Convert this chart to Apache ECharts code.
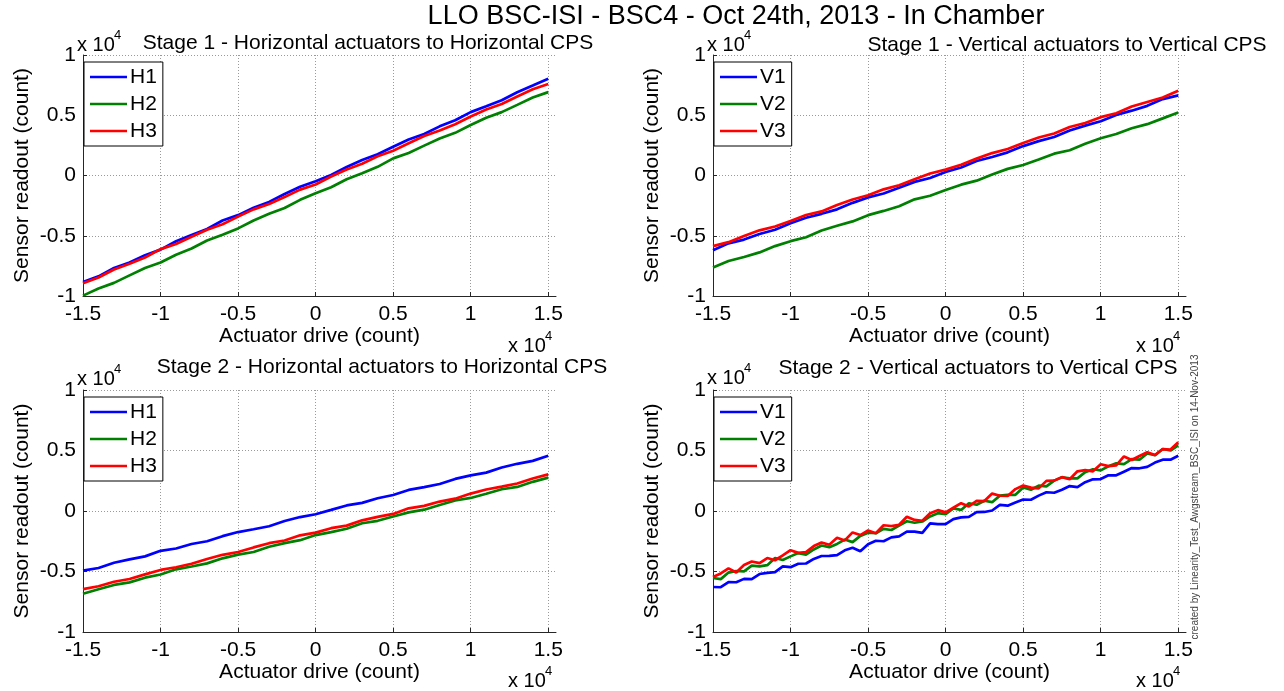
<!DOCTYPE html>
<html><head><meta charset="utf-8">
<script src="https://cdn.jsdelivr.net/npm/echarts@6/dist/echarts.min.js"></script>
<style>html,body{margin:0;padding:0;background:#fff}#c{width:1284px;height:691px}</style>
</head><body><div id="c"></div>
<script>
// ---- Data (values in units of x10^4 counts) ----
const MAIN_TITLE = 'LLO BSC-ISI - BSC4 - Oct 24th, 2013 - In Chamber';
const PANEL_TITLES = [
  'Stage 1 - Horizontal actuators to Horizontal CPS',
  'Stage 1 - Vertical actuators to Vertical CPS',
  'Stage 2 - Horizontal actuators to Horizontal CPS',
  'Stage 2 - Vertical actuators to Vertical CPS'
];
const X_NAME = 'Actuator drive (count)';
const Y_NAME = 'Sensor readout (count)';
const WATERMARK = 'created by Linearity_Test_Awgstream_BSC_ISI on 14-Nov-2013';
const X_TICKS = [-1.5, -1, -0.5, 0, 0.5, 1, 1.5];
const Y_TICKS = [-1, -0.5, 0, 0.5, 1];

const X31 = [-1.5,-1.4,-1.3,-1.2,-1.1,-1.0,-0.9,-0.8,-0.7,-0.6,-0.5,-0.4,-0.3,-0.2,-0.1,0,
  0.1,0.2,0.3,0.4,0.5,0.6,0.7,0.8,0.9,1.0,1.1,1.2,1.3,1.4,1.5];
const X61 = [-1.5,-1.45,-1.4,-1.35,-1.3,-1.25,-1.2,-1.15,-1.1,-1.05,-1.0,-0.95,-0.9,-0.85,-0.8,-0.75,
  -0.7,-0.65,-0.6,-0.55,-0.5,-0.45,-0.4,-0.35,-0.3,-0.25,-0.2,-0.15,-0.1,-0.05,0,
  0.05,0.1,0.15,0.2,0.25,0.3,0.35,0.4,0.45,0.5,0.55,0.6,0.65,0.7,0.75,0.8,0.85,0.9,0.95,
  1.0,1.05,1.1,1.15,1.2,1.25,1.3,1.35,1.4,1.45,1.5];

// Stage 1 horizontal
const S1_H1 = [-0.883,-0.837,-0.768,-0.722,-0.661,-0.615,-0.546,-0.494,-0.444,-0.373,-0.329,-0.268,-0.219,-0.153,-0.094,-0.047,
  0.004,0.071,0.129,0.177,0.238,0.299,0.344,0.408,0.459,0.526,0.574,0.625,0.691,0.746,0.803];
const S1_H2 = [-0.997,-0.938,-0.891,-0.829,-0.767,-0.722,-0.658,-0.606,-0.539,-0.491,-0.439,-0.373,-0.318,-0.270,-0.202,-0.147,
  -0.097,-0.031,0.018,0.072,0.142,0.187,0.248,0.307,0.354,0.419,0.480,0.526,0.586,0.648,0.692];
const S1_H3 = [-0.894,-0.846,-0.780,-0.733,-0.681,-0.611,-0.568,-0.508,-0.450,-0.405,-0.341,-0.281,-0.237,-0.178,-0.117,-0.075,
  -0.008,0.050,0.098,0.159,0.205,0.267,0.328,0.373,0.426,0.489,0.548,0.594,0.656,0.715,0.760];
// Stage 1 vertical
const S1_V1 = [-0.620,-0.563,-0.532,-0.485,-0.450,-0.397,-0.351,-0.318,-0.281,-0.227,-0.182,-0.149,-0.101,-0.053,-0.021,0.029,
  0.066,0.120,0.154,0.192,0.244,0.285,0.319,0.374,0.414,0.450,0.503,0.538,0.578,0.634,0.665];
const S1_V2 = [-0.763,-0.709,-0.676,-0.638,-0.586,-0.545,-0.512,-0.457,-0.417,-0.381,-0.329,-0.294,-0.255,-0.198,-0.168,-0.121,
  -0.076,-0.043,0.008,0.055,0.087,0.132,0.181,0.210,0.264,0.309,0.344,0.392,0.426,0.474,0.523];
const S1_V3 = [-0.586,-0.553,-0.502,-0.455,-0.423,-0.377,-0.328,-0.298,-0.244,-0.199,-0.164,-0.115,-0.081,-0.032,0.017,0.049,
  0.089,0.140,0.186,0.220,0.270,0.315,0.348,0.403,0.436,0.484,0.517,0.572,0.610,0.647,0.704];
// Stage 2 horizontal
const S2_H1 = [-0.493,-0.471,-0.428,-0.400,-0.375,-0.329,-0.310,-0.273,-0.250,-0.208,-0.174,-0.151,-0.126,-0.083,-0.050,-0.027,
  0.009,0.046,0.067,0.105,0.132,0.174,0.197,0.223,0.265,0.294,0.317,0.360,0.390,0.414,0.456];
const S2_H2 = [-0.684,-0.647,-0.611,-0.590,-0.551,-0.525,-0.482,-0.459,-0.433,-0.391,-0.361,-0.339,-0.295,-0.265,-0.241,-0.199,
  -0.175,-0.147,-0.101,-0.081,-0.046,-0.011,0.011,0.050,0.087,0.108,0.142,0.180,0.199,0.241,0.276];
const S2_H3 = [-0.646,-0.622,-0.585,-0.562,-0.524,-0.487,-0.465,-0.436,-0.397,-0.362,-0.339,-0.301,-0.266,-0.244,-0.201,-0.179,
  -0.142,-0.121,-0.077,-0.049,-0.024,0.022,0.042,0.078,0.102,0.144,0.178,0.201,0.227,0.269,0.303];
// Stage 2 vertical (noisier, finer sampling)
const S2_V1 = [-0.628,-0.630,-0.588,-0.589,-0.561,-0.563,-0.521,-0.511,-0.505,-0.458,-0.464,-0.436,-0.434,-0.396,-0.372,-0.371,
  -0.365,-0.325,-0.303,-0.333,-0.275,-0.246,-0.250,-0.218,-0.210,-0.170,-0.170,-0.181,-0.103,-0.109,-0.109,
  -0.067,-0.053,-0.048,-0.010,-0.008,0.004,0.050,0.044,0.071,0.095,0.093,0.127,0.155,0.151,0.176,0.206,0.198,0.238,0.262,
  0.264,0.295,0.295,0.325,0.355,0.353,0.365,0.400,0.424,0.424,0.456];
const S2_V2 = [-0.554,-0.563,-0.509,-0.496,-0.499,-0.451,-0.457,-0.448,-0.388,-0.405,-0.375,-0.348,-0.360,-0.318,-0.285,-0.299,
  -0.272,-0.236,-0.257,-0.206,-0.179,-0.184,-0.148,-0.157,-0.121,-0.085,-0.097,-0.087,-0.045,-0.018,-0.027,
  0.021,0.009,0.064,0.052,0.085,0.073,0.127,0.133,0.134,0.194,0.176,0.209,0.203,0.251,0.279,0.270,0.270,0.321,0.345,
  0.336,0.370,0.394,0.388,0.429,0.424,0.475,0.461,0.512,0.500,0.542];
const S2_V3 = [-0.546,-0.516,-0.474,-0.508,-0.447,-0.417,-0.431,-0.389,-0.407,-0.366,-0.324,-0.346,-0.340,-0.290,-0.260,-0.279,
  -0.221,-0.243,-0.177,-0.199,-0.161,-0.184,-0.118,-0.124,-0.114,-0.048,-0.074,-0.081,-0.019,0.007,-0.011,
  0.027,0.065,0.038,0.084,0.082,0.144,0.126,0.124,0.181,0.211,0.193,0.187,0.249,0.251,0.280,0.262,0.328,0.338,0.328,
  0.386,0.371,0.377,0.451,0.421,0.455,0.485,0.462,0.512,0.508,0.568];

const H_NAMES = ['H1', 'H2', 'H3'];
const V_NAMES = ['V1', 'V2', 'V3'];
const COLORS = ['#0000ff', '#008000', '#ff0000'];

// ---- Layout ----
const FONT = '"Liberation Sans", Arial, Helvetica, sans-serif';
const GRIDS = [
  {left: 83, top: 55, width: 473, height: 241},
  {left: 713, top: 55, width: 473, height: 241},
  {left: 83, top: 390, width: 473, height: 242},
  {left: 713, top: 390, width: 473, height: 242}
];
const panels = [
  {names: H_NAMES, xs: X31, ys: [S1_H1, S1_H2, S1_H3]},
  {names: V_NAMES, xs: X31, ys: [S1_V1, S1_V2, S1_V3]},
  {names: H_NAMES, xs: X31, ys: [S2_H1, S2_H2, S2_H3]},
  {names: V_NAMES, xs: X61, ys: [S2_V1, S2_V2, S2_V3]}
];

const chart = echarts.init(document.getElementById('c'), null, {renderer: 'canvas'});

const xAxes = [], yAxes = [], series = [], legends = [], graphics = [];
const axisColor = '#262626';
GRIDS.forEach((g, k) => {
  xAxes.push({
    gridIndex: k, type: 'value', min: X_TICKS[0], max: 1.55, interval: 0.5,
    name: X_NAME, nameLocation: 'middle', nameGap: 30,
    nameTextStyle: {fontFamily: FONT, fontSize: 21, color: '#000'},
    axisLine: {show: true, onZero: false, lineStyle: {color: axisColor, width: 1}},
    axisTick: {show: true, inside: true, length: 4, lineStyle: {color: axisColor}},
    axisLabel: {fontFamily: FONT, fontSize: 21, color: '#000', margin: 8, showMaxLabel: false,
      formatter: v => (X_TICKS.some(t => Math.abs(t - v) < 1e-9) ? String(+v.toFixed(2)) : '')},
    splitLine: {show: true, showMaxLine: false, lineStyle: {color: '#9a9a9a', type: [1, 2], width: 1}}
  });
  yAxes.push({
    gridIndex: k, type: 'value', min: Y_TICKS[0], max: Y_TICKS[Y_TICKS.length - 1], interval: 0.5,
    name: Y_NAME, nameLocation: 'middle', nameGap: 50,
    nameTextStyle: {fontFamily: FONT, fontSize: 21, color: '#000'},
    axisLine: {show: true, onZero: false, lineStyle: {color: axisColor, width: 1}},
    axisTick: {show: true, inside: true, length: 4, lineStyle: {color: axisColor}},
    axisLabel: {fontFamily: FONT, fontSize: 21, color: '#000', margin: 7,
      formatter: v => String(+v.toFixed(2))},
    splitLine: {show: true, lineStyle: {color: '#9a9a9a', type: [1, 2], width: 1}}
  });
  const p = panels[k];
  p.names.forEach((nm, j) => {
    series.push({
      type: 'line', name: nm, xAxisIndex: k, yAxisIndex: k,
      data: p.xs.map((x, i) => [x, p.ys[j][i]]),
      showSymbol: false, symbol: 'none', smooth: false,
      lineStyle: {color: COLORS[j], width: 2.7}, itemStyle: {color: COLORS[j]},
      z: 2 + j
    });
  });
  legends.push({
    data: p.names, orient: 'vertical', left: g.left + 1, top: g.top + 7,
    backgroundColor: '#fff', borderColor: '#000', borderWidth: 1,
    padding: [3, 6, 3, 6], itemGap: 3, itemWidth: 37, itemHeight: 2.5,
    icon: 'rect', selectedMode: false,
    textStyle: {fontFamily: FONT, fontSize: 21, color: '#000', lineHeight: 24, padding: [0, 0, 0, -2]}
  });
});

// Titles, exponent labels, watermark
graphics.push({type: 'text', x: 736, y: 17, z: 10,
  style: {text: MAIN_TITLE, font: '27px ' + FONT, fill: '#000', textAlign: 'center', textVerticalAlign: 'middle'}});
const TITLE_POS = [[368, 43], [1067, 45], [382, 367], [978, 368]];
TITLE_POS.forEach((pos, k) => {
  graphics.push({type: 'text', x: pos[0], y: pos[1], z: 10,
    style: {text: PANEL_TITLES[k], font: '21px ' + FONT, fill: '#000', textAlign: 'center', textVerticalAlign: 'middle'}});
});
function expLabel(x, y) {
  graphics.push({type: 'text', x: x, y: y, z: 10,
    style: {text: 'x 10', font: '20px ' + FONT, fill: '#000', textAlign: 'left', textVerticalAlign: 'middle'}});
  graphics.push({type: 'text', x: x + 37, y: y - 10, z: 10,
    style: {text: '4', font: '13px ' + FONT, fill: '#000', textAlign: 'left', textVerticalAlign: 'middle'}});
}
expLabel(77, 45); expLabel(707, 45); expLabel(77, 379); expLabel(707, 378);
expLabel(508, 346); expLabel(1136, 346); expLabel(508, 681); expLabel(1136, 681);
graphics.push({type: 'text', x: 1195, y: 497, rotation: Math.PI / 2, z: 10,
  style: {text: WATERMARK, font: '10px ' + FONT, fill: '#444', textAlign: 'center', textVerticalAlign: 'middle'}});

chart.setOption({
  animation: false,
  backgroundColor: '#fff',
  grid: GRIDS.map(g => Object.assign({containLabel: false}, g)),
  xAxis: xAxes, yAxis: yAxes, series: series, legend: legends,
  graphic: graphics
});
</script></body></html>
